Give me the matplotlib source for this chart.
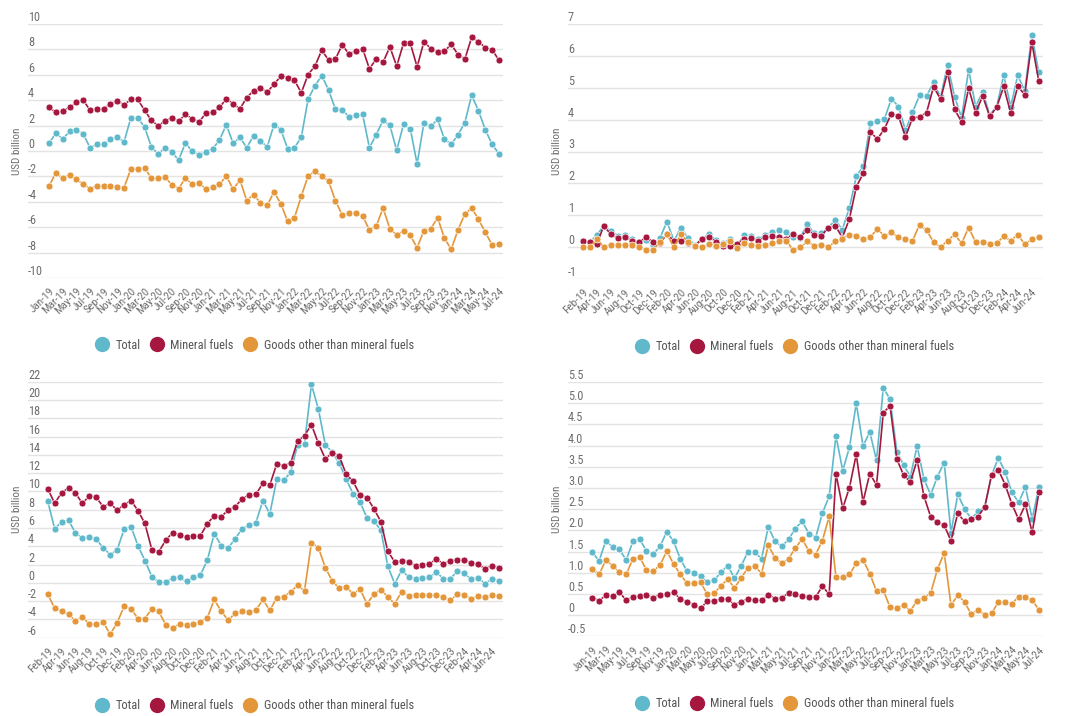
import matplotlib
matplotlib.use("Agg")
import matplotlib.pyplot as plt
from matplotlib.lines import Line2D
from matplotlib.transforms import blended_transform_factory
from matplotlib.font_manager import FontProperties, findfont
from matplotlib.textpath import TextPath
import numpy as np
import pandas as pd

# pick a narrow-ish family that is actually installed
FONT = 'DejaVu Sans'
for fam in ['Liberation Sans Narrow', 'Roboto Condensed', 'Lato', 'Roboto']:
    try:
        findfont(FontProperties(family=fam), fallback_to_default=False)
        FONT = fam
        break
    except ValueError:
        pass
plt.rcParams['font.family'] = [FONT, 'DejaVu Sans']


def fit(s, px):
    # font size (pt) that makes string s about px pixels wide at 100 dpi
    w = TextPath((0, 0), s, size=10, prop=FontProperties(family=FONT)).get_extents().width
    return 10 * px / (w * 100 / 72)


TEAL = '#5fb9cb'
RED = '#a5173f'
ORANGE = '#e3973a'
GREY = '#6e6e6e'

# panel 1: Jan-19 .. Jul-24
p1_total = [0.63, 1.41, 0.94, 1.54, 1.62, 1.34, 0.26, 0.52, 0.52, 0.94,
            1.07, 0.73, 2.62, 2.62, 1.88, 0.34, -0.24, 0.26, -0.08, -0.71,
            0.63, -0.03, -0.29, -0.08, 0.18, 0.86, 2.07, 0.6, 1.07, 0.26,
            1.2, 0.79, 0.34, 2.07, 1.68, 0.18, 0.26, 1.07, 4.08, 5.13,
            5.94, 4.82, 3.3, 3.25, 2.7, 2.83, 2.88, 0.26, 1.28, 2.43,
            2.02, 0.05, 2.09, 1.75, -1.02, 2.23, 1.94, 2.49, 0.94, 0.52,
            1.28, 2.23, 4.4, 3.17, 1.68, 0.52, -0.21]
p1_fuels = [3.43, 3.04, 3.14, 3.43, 3.85, 4.0, 3.22, 3.32, 3.32, 3.72,
            3.9, 3.64, 4.06, 4.06, 3.22, 2.41, 1.99, 2.36, 2.62, 2.36,
            2.88, 2.54, 2.28, 2.98, 3.04, 3.43, 4.11, 3.72, 3.32, 4.21,
            4.74, 4.95, 4.63, 5.26, 5.89, 5.76, 5.58, 4.58, 6.02, 6.68,
            7.93, 7.17, 7.23, 8.35, 7.64, 7.85, 8.06, 6.47, 7.25, 6.99,
            8.19, 6.68, 8.48, 8.48, 6.62, 8.61, 8.06, 7.77, 7.85, 8.4,
            7.59, 7.23, 8.95, 8.61, 8.14, 7.98, 7.15]
p1_other = [-2.75, -1.71, -2.16, -1.87, -2.23, -2.62, -2.96, -2.75, -2.75, -2.75,
            -2.83, -2.88, -1.4, -1.4, -1.32, -2.13, -2.13, -2.08, -2.65, -2.96,
            -2.13, -2.62, -2.49, -3.01, -2.83, -2.62, -1.97, -3.01, -2.29, -3.9,
            -3.43, -4.08, -4.29, -3.22, -4.16, -5.53, -5.25, -3.56, -1.97, -1.61,
            -1.97, -2.36, -3.9, -5.04, -4.91, -4.91, -5.12, -6.21, -5.92, -4.49,
            -6.13, -6.6, -6.31, -6.65, -7.61, -6.26, -6.13, -5.25, -6.86, -7.74,
            -6.21, -4.96, -4.49, -5.38, -6.39, -7.4, -7.35]

# panel 2: Feb-19 .. Jul-24
p2_total = [0.2, 0.15, 0.38, 0.67, 0.5, 0.36, 0.38, 0.27, 0.14, 0.22,
            0.08, 0.28, 0.8, 0.2, 0.61, 0.28, 0.08, 0.25, 0.42, 0.21,
            0.14, 0.25, 0.05, 0.38, 0.36, 0.24, 0.39, 0.46, 0.53, 0.46,
            0.33, 0.3, 0.72, 0.43, 0.43, 0.61, 0.85, 0.55, 1.23, 2.22,
            2.55, 3.9, 3.96, 4.02, 4.66, 4.41, 3.66, 4.23, 4.76, 4.73,
            5.18, 4.7, 5.71, 4.72, 4.06, 5.57, 4.41, 4.88, 4.15, 4.41,
            5.39, 4.41, 5.39, 4.9, 6.65, 5.48]
p2_fuels = [0.2, 0.15, 0.09, 0.67, 0.4, 0.28, 0.31, 0.2, 0.15, 0.31,
            0.17, 0.13, 0.4, 0.2, 0.2, 0.12, 0.04, 0.26, 0.33, 0.17,
            0.05, 0.05, 0.09, 0.26, 0.28, 0.2, 0.31, 0.34, 0.33, 0.26,
            0.42, 0.31, 0.54, 0.39, 0.35, 0.61, 0.67, 0.3, 0.88, 1.9,
            2.32, 3.61, 3.39, 3.71, 4.19, 4.11, 3.46, 4.05, 4.09, 4.22,
            5.03, 4.64, 5.49, 4.32, 3.93, 4.98, 4.22, 4.74, 4.1, 4.39,
            5.04, 4.2, 5.04, 4.78, 6.43, 5.2]
p2_other = [0.0, 0.0, 0.26, 0.0, 0.08, 0.08, 0.08, 0.07, -0.01, -0.09,
            -0.09, 0.16, 0.4, 0.0, 0.4, 0.16, 0.04, -0.01, 0.09, 0.04,
            0.09, 0.2, -0.04, 0.12, 0.08, 0.04, 0.08, 0.12, 0.2, 0.2,
            -0.09, -0.01, 0.18, 0.04, 0.08, 0.0, 0.18, 0.26, 0.39, 0.34,
            0.26, 0.31, 0.58, 0.34, 0.46, 0.31, 0.26, 0.2, 0.7, 0.53,
            0.16, 0.0, 0.2, 0.4, 0.12, 0.61, 0.16, 0.16, 0.09, 0.12,
            0.34, 0.2, 0.39, 0.09, 0.24, 0.31]

# panel 3: Feb-19 .. Jul-24
p3_total = [8.95, 5.93, 6.65, 6.87, 5.45, 4.9, 4.98, 4.76, 3.82, 3.1,
            3.6, 5.85, 6.15, 4.07, 2.44, 0.69, 0.07, 0.07, 0.55, 0.65,
            0.15, 0.62, 0.84, 2.5, 5.38, 4.07, 3.82, 4.8, 5.9, 6.3,
            6.6, 9.0, 7.53, 11.34, 11.2, 12.1, 15.1, 15.2, 21.7, 19.0,
            15.1, 14.3, 13.1, 11.34, 9.75, 8.84, 7.1, 6.76, 5.75, 1.82,
            -0.1, 1.38, 0.65, 0.4, 0.55, 0.62, 1.16, 0.47, 0.44, 1.27,
            1.05, 0.4, 0.58, -0.1, 0.44, 0.22]
p3_fuels = [10.3, 8.7, 9.85, 10.4, 9.8, 8.7, 9.5, 9.35, 8.3, 8.7,
            7.95, 8.55, 9.0, 7.9, 6.5, 3.64, 3.4, 4.65, 5.5, 5.2,
            5.0, 5.16, 5.16, 6.47, 7.35, 7.24, 7.96, 8.3, 9.2, 9.6,
            9.67, 10.9, 10.7, 13.0, 12.8, 13.1, 15.5, 16.1, 17.3, 15.26,
            13.57, 14.23, 13.87, 11.9, 11.1, 9.6, 9.33, 8.1, 6.7, 3.45,
            2.3, 2.44, 2.3, 1.85, 1.96, 2.04, 2.65, 2.04, 2.44, 2.55,
            2.55, 2.15, 2.04, 1.56, 1.85, 1.67]
p3_other = [-1.24, -2.76, -3.13, -3.42, -4.18, -3.75, -4.5, -4.5, -4.29, -5.64,
            -4.36, -2.58, -2.84, -3.9, -3.9, -2.84, -3.13, -4.58, -4.95, -4.47,
            -4.65, -4.47, -4.29, -3.82, -1.82, -3.13, -4.07, -3.35, -3.13, -3.2,
            -3.02, -1.82, -3.02, -1.64, -1.53, -0.95, -0.29, -0.87, 4.4, 3.85,
            1.67, 0.18, -0.58, -0.4, -1.24, -0.69, -2.29, -1.24, -0.76, -1.53,
            -2.29, -0.95, -1.45, -1.35, -1.35, -1.35, -1.35, -1.5, -1.93, -1.24,
            -1.3, -1.75, -1.45, -1.53, -1.3, -1.45]

# panel 4: Jan-19 .. Jul-24
p4_total = [1.48, 1.28, 1.76, 1.6, 1.55, 1.3, 1.74, 1.79, 1.51, 1.44,
            1.62, 1.97, 1.74, 1.33, 1.03, 0.99, 0.92, 0.79, 0.82, 1.01,
            1.17, 0.87, 1.16, 1.5, 1.48, 1.33, 2.08, 1.74, 1.62, 1.79,
            2.04, 2.22, 1.92, 1.83, 2.41, 2.8, 4.23, 3.41, 3.96, 5.0,
            3.99, 4.32, 3.65, 5.37, 5.09, 3.86, 3.54, 3.27, 3.99, 3.21,
            2.84, 3.27, 3.6, 1.94, 2.85, 2.51, 2.27, 2.45, 2.55, 3.3,
            3.71, 3.38, 2.9, 2.66, 3.02, 2.27, 3.02]
p4_fuels = [0.41, 0.34, 0.47, 0.45, 0.54, 0.35, 0.43, 0.45, 0.47, 0.41,
            0.48, 0.49, 0.54, 0.38, 0.31, 0.25, 0.16, 0.33, 0.33, 0.38,
            0.38, 0.25, 0.31, 0.39, 0.35, 0.35, 0.48, 0.39, 0.41, 0.52,
            0.49, 0.45, 0.43, 0.43, 0.68, 0.49, 3.34, 2.52, 3.01, 3.79,
            2.67, 3.34, 3.07, 4.78, 4.93, 3.68, 3.3, 3.14, 3.66, 2.81,
            2.32, 2.19, 2.12, 1.75, 2.4, 2.21, 2.26, 2.32, 2.56, 3.31,
            3.43, 3.08, 2.62, 2.26, 2.61, 1.95, 2.9]
p4_other = [1.08, 0.96, 1.3, 1.16, 1.02, 0.96, 1.33, 1.37, 1.06, 1.04,
            1.18, 1.51, 1.21, 0.96, 0.75, 0.75, 0.77, 0.49, 0.52, 0.69,
            0.85, 0.64, 0.88, 1.12, 1.16, 0.98, 1.65, 1.35, 1.22, 1.33,
            1.58, 1.8, 1.51, 1.43, 1.76, 2.33, 0.9, 0.9, 0.96, 1.22,
            1.3, 0.98, 0.56, 0.59, 0.18, 0.16, 0.25, 0.1, 0.34, 0.4,
            0.52, 1.08, 1.47, 0.23, 0.47, 0.31, 0.02, 0.13, 0.0, 0.04,
            0.31, 0.31, 0.27, 0.43, 0.42, 0.35, 0.13]

p1_yticks = [10, 8, 6, 4, 2, 0, -2, -4, -6, -8, -10]
p2_yticks = [7, 6, 5, 4, 3, 2, 1, 0, -1]
p3_yticks = [22, 20, 18, 16, 14, 12, 10, 8, 6, 4, 2, 0, -2, -4, -6]
p4_yticks = [5.5, 5.0, 4.5, 4.0, 3.5, 3.0, 2.5, 2.0, 1.5, 1.0, 0.5, 0, -0.5]
p4_ylabels = ['5.5', '5.0', '4.5', '4.0', '3.5', '3.0', '2.5', '2.0', '1.5',
              '1.0', '0.5', '0', '-0.5']

series_names = ['Total', 'Mineral fuels', 'Goods other than mineral fuels']


def month_labels(start, n):
    return [d.strftime('%b-%y') for d in pd.date_range(start, periods=n, freq='MS')]


LEG_FS = fit(series_names[2], 150)
XT_FS = fit('Jan-19', 29)
YT_FS = fit('10', 10.5)
YL_FS = fit('USD billion', 46)

W, H = 1080, 716
fig = plt.figure(figsize=(W / 100, H / 100), dpi=100)

# left px, top px, bottom px, xlim, series, ticks, tick labels, first month
panels = [
    (28, 24, 278, (-3.1, 66.6), p1_total, p1_fuels, p1_other, p1_yticks, None, '2019-01-01'),
    (568, 24, 279, (-2.1, 65.6), p2_total, p2_fuels, p2_other, p2_yticks, None, '2019-02-01'),
    (28, 381.7, 637.7, (-2.84, 65.6), p3_total, p3_fuels, p3_other, p3_yticks, None, '2019-02-01'),
    (568, 382, 636.3, (-3.6, 66.6), p4_total, p4_fuels, p4_other, p4_yticks, p4_ylabels, '2019-01-01'),
]

for left, top, bottom, xlim, tot, fuel, oth, yt, ylab, start in panels:
    ax = fig.add_axes([left / W, 1 - bottom / H, 475 / W, (bottom - top) / H])
    n = len(tot)
    x = np.arange(n)
    labels = month_labels(start, n)
    for s in ax.spines.values():
        s.set_visible(False)
    ax.set_xlim(*xlim)
    ax.set_ylim(min(yt), max(yt))
    ax.set_yticks(yt)
    ax.set_yticklabels([])
    ax.tick_params(length=0)
    ax.grid(axis='y', color='#e3e3e3', linewidth=1.0)
    ax.set_axisbelow(True)

    kw = dict(linewidth=1.2, marker='o', markersize=5, markeredgecolor='white',
              markeredgewidth=0.5)
    ax.plot(x, tot, color=TEAL, zorder=3, **kw)
    ax.plot(x, fuel, color=RED, zorder=4, **kw)
    ax.plot(x, oth, color=ORANGE, zorder=5, **kw)

    # y labels sit above the gridlines
    tr = blended_transform_factory(ax.transAxes, ax.transData)
    names = ylab if ylab else [str(v) for v in yt]
    for v, s in zip(yt, names):
        ax.text(0.0, v, s, transform=tr, ha='left', va='bottom', fontsize=YT_FS,
                color=GREY)

    ax.text(-0.024, 0.5, 'USD billion', transform=ax.transAxes, rotation=90,
            ha='center', va='center', fontsize=YL_FS, color=GREY)

    ax.set_xticks(x[::2])
    ax.set_xticklabels(labels[::2], rotation=45, ha='right', va='top',
                       rotation_mode='anchor', fontsize=XT_FS, color=GREY)
    ax.tick_params(axis='x', pad=6)

    handles = [Line2D([], [], linestyle='none', marker='o', markersize=10,
                      color=c, markeredgecolor=c)
               for c in (TEAL, RED, ORANGE)]
    ax.legend(handles, series_names,
              loc='center', bbox_to_anchor=(0.477, -0.265), ncol=3, frameon=False,
              fontsize=LEG_FS, handlelength=1.0, handletextpad=0.6,
              columnspacing=0.8, labelcolor='#555555')

fig.savefig('out.png', dpi=100)
